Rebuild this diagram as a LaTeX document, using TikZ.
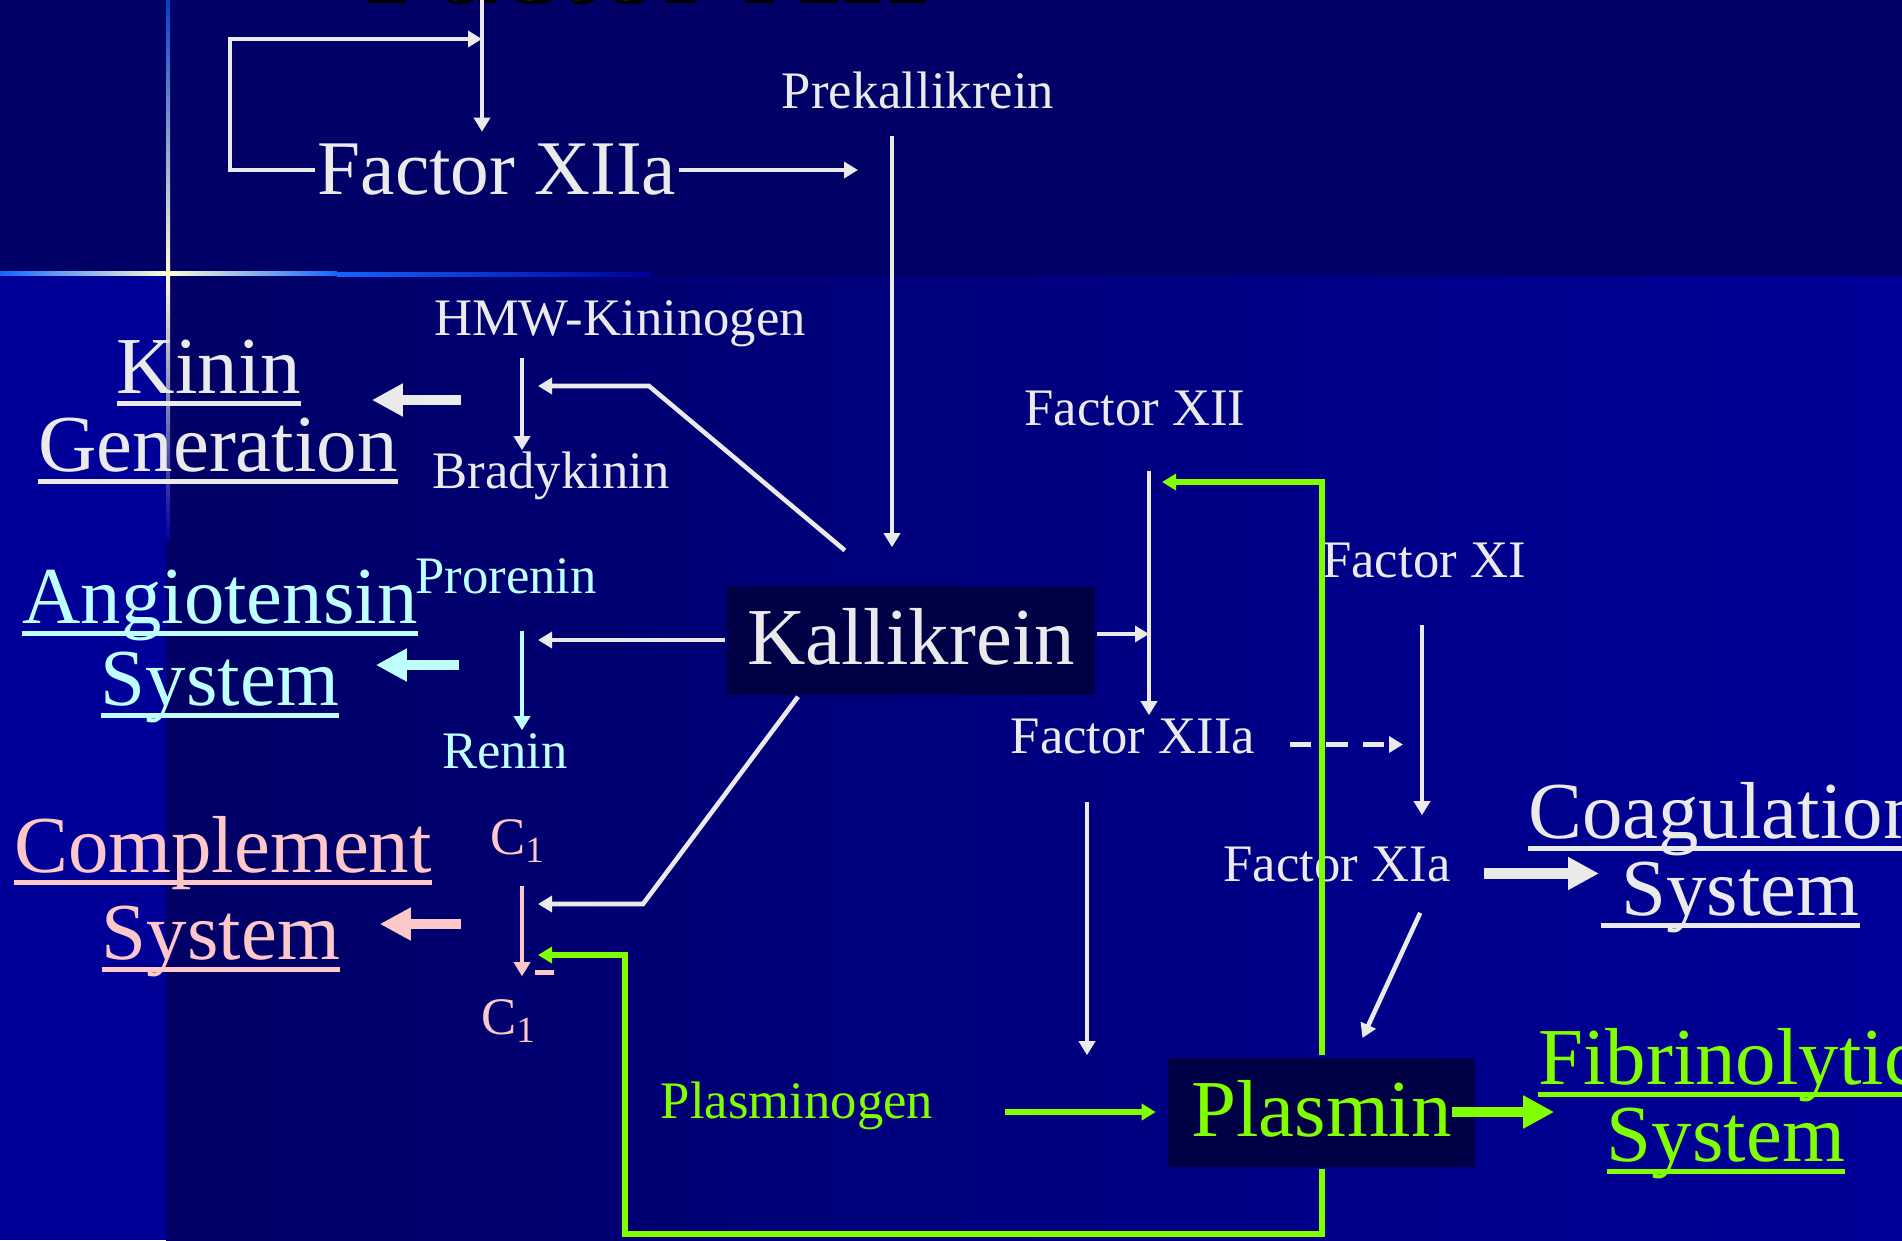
\documentclass[tikz,border=0pt]{standalone}
\usepackage{fontspec}
\setmainfont{Liberation Serif}
\usetikzlibrary{arrows.meta}

\definecolor{slidetop}{RGB}{0,0,102}
\definecolor{slidelow}{RGB}{0,0,153}
\definecolor{boxfill}{RGB}{0,0,70}
\definecolor{textwhite}{RGB}{234,234,234}
\definecolor{kinincyan}{RGB}{190,255,255}
\definecolor{complpink}{RGB}{255,200,200}
\definecolor{fibgreen}{RGB}{128,255,0}
\definecolor{titleteal}{RGB}{0,110,110}
\definecolor{glowblue}{RGB}{20,100,255}
\definecolor{glowpale}{RGB}{255,255,215}

% underlined system names
\newsavebox{\ulbox}
\newcommand{\sysul}[1]{\sbox{\ulbox}{#1}\rlap{\rule[-3.6pt]{\wd\ulbox}{1.3pt}}\usebox{\ulbox}}

\tikzset{
	lbl/.style = {font = \fontsize{15}{18}\selectfont, inner sep = 0pt, text height = 0.36cm, text depth = 0.10cm, yshift = -0.45mm},
	biglbl/.style = {font = \fontsize{23}{27}\selectfont, inner sep = 0pt, text height = 0.60cm, text depth = 0.12cm},
	sysname/.style = {font = \fontsize{23}{27}\selectfont, inner sep = 0pt, anchor = base},
	enzyme/.style = {biglbl, fill = boxfill, minimum height = 1.09cm},
	bigarrow/.style = {line width = 3pt, -{Triangle[length = 0.31cm, width = 0.31cm]}},
	feedback/.style = {fibgreen, line width = 1.7pt}
}

\begin{document}
\begin{tikzpicture}[> = {Triangle[length = 1.4mm, width = 1.6mm]}, line width = 1.3pt, color = textwhite]

	\useasboundingbox (0, 0) rectangle (19.02, 12.40);
	\clip (0, 0) rectangle (19.02, 12.40);

	% Slide background
	
	\fill [slidetop] (0, 0) rectangle (19.02, 12.40);
	\shade [left color = slidetop, right color = slidelow] (1.66, 0) rectangle (19.02, 9.64);
	\fill [slidelow] (0, 0) rectangle (1.66, 9.64);
	
	\shade [left color = glowblue, right color = glowpale] (0, 9.65) rectangle (1.68, 9.69);
	\shade [left color = glowpale, right color = glowblue] (1.68, 9.65) rectangle (3.37, 9.69);
	\shade [left color = glowblue, right color = slidelow] (3.37, 9.64) rectangle (6.50, 9.68);
	\shade [top color = glowblue!60!slidetop, bottom color = glowpale] (1.66, 12.40) rectangle (1.70, 9.67);
	\shade [top color = glowpale, bottom color = slidelow] (1.66, 9.67) rectangle (1.70, 7.00);
	
	% Title, cut by the top edge
	
	\node [font = \fontsize{38.5}{44}\selectfont, black, anchor = base] (title shadow) at (6.47, 12.365) {Factor XII};
	\node [font = \fontsize{38.5}{44}\selectfont, titleteal, anchor = base] (title) at (6.43, 12.405) {Factor XII};
	
	% Reactants and products
	
	\node [biglbl, font = \fontsize{22}{26}\selectfont] (xiia top) at (4.97, 10.70) {Factor XIIa};
	\node [lbl] (prekal) at (9.18, 11.49) {Prekallikrein};
	\node [lbl] (hmw) at (6.20, 9.22) {HMW-Kininogen};
	\node [lbl] (brady) at (5.51, 7.69) {Bradykinin};
	\node [lbl, kinincyan] (prorenin) at (5.06, 6.64) {Prorenin};
	\node [lbl, kinincyan] (renin) at (5.05, 4.89) {Renin};
	\node [lbl, complpink] (c1) at (5.18, 4.03) {C\textsubscript{1}};
	\node [lbl, complpink] (c1 act) at (5.09, 2.23) {C\textsubscript{1}};
	\node [lbl] (xii) at (11.35, 8.32) {Factor XII};
	\node [lbl] (xiia) at (11.33, 5.04) {Factor XIIa};
	\node [lbl] (xi) at (14.24, 6.80) {Factor XI};
	\node [lbl] (xia) at (13.37, 3.76) {Factor XIa};
	\node [lbl, fibgreen] (plg) at (7.97, 1.39) {Plasminogen};
	
	\node [enzyme, minimum width = 3.68cm] (kall) at (9.11, 6.00) {Kallikrein};
	\node [enzyme, minimum width = 3.07cm, text = fibgreen] (plas) at (13.215, 1.28) {Plasmin};
	
	% Systems
	
	\node [sysname] (kinin) at (2.09, 8.47) {\sysul{Kinin}};
	\node [sysname] (kin gen) at (2.18, 7.69) {\sysul{Generation}};
	\node [sysname, kinincyan] (angio) at (2.20, 6.17) {\sysul{Angiotensin}};
	\node [sysname, kinincyan] (angio sys) at (2.20, 5.35) {\sysul{System}};
	\node [sysname, complpink] (compl) at (2.23, 3.68) {\sysul{Complement}};
	\node [sysname, complpink] (compl sys) at (2.21, 2.81) {\sysul{System}};
	\node [sysname, anchor = base west] (coag) at (15.26, 4.02) {\sysul{Coagulation}};
	\node [sysname, anchor = base west] (coag sys) at (15.99, 3.25) {\sysul{\ System}};
	\node [sysname, fibgreen, anchor = base west] (fib) at (15.36, 1.56) {\sysul{Fibrinolytic}};
	\node [sysname, fibgreen] (fib sys) at (17.26, 0.79) {\sysul{System}};
	
	% Columns and bends
	
	\coordinate (top in) at (4.82, 12.40);
	\coordinate (loop corner) at (2.30, 12.01);
	\coordinate (pk col) at (8.92, 0);
	\coordinate (kin col) at (5.22, 0);
	\coordinate (tip col) at (5.38, 0);
	\coordinate (xii col) at (11.49, 0);
	\coordinate (xiia col) at (10.87, 0);
	\coordinate (xi col) at (14.22, 0);
	\coordinate (hmw bend) at (6.49, 8.54);
	\coordinate (c1 bend) at (6.43, 3.36);
	\coordinate (fb top) at (11.62, 7.58);
	\coordinate (fb low) at (6.25, 0.06);
	\coordinate (c1 feed) at (5.38, 2.85);
	\coordinate (kin out) at (4.61, 8.40);
	\coordinate (angio out) at (4.59, 5.75);
	\coordinate (compl out) at (4.61, 3.16);
	
	% Contact activation
	
	\draw [->] (top in) -- (top in |- xiia top.north);
	\draw [->] (xiia top.west) -| (loop corner) -- (loop corner -| top in);
	\draw [->, shorten > = 3.4mm] (xiia top.east) -- (xiia top.east -| pk col);
	\draw [->, shorten < = 1.5mm, shorten > = 3.6mm] (prekal.south -| pk col) -- (kall.north -| pk col);
	
	% Kallikrein acting to the left
	
	\draw [->, shorten < = 1.0mm] (hmw.south -| kin col) -- (brady.north -| kin col);
	\draw [->, shorten < = 5.1mm] ([xshift = -2.7mm]kall.north) -- (hmw bend) -- (hmw bend -| tip col);
	\draw [->] (kall.west) -- (kall.west -| tip col);
	\draw [->] ([xshift = -11.3mm]kall.south) -- (c1 bend) -- (c1 bend -| tip col);
	
	\draw [kinincyan, ->, shorten < = 2.5mm] (prorenin.south -| kin col) -- (renin.north -| kin col);
	\draw [complpink, ->, shorten < = 1.9mm, shorten > = 2.0mm] (c1.south -| kin col) -- (c1 act.north -| kin col);
	\draw [complpink] ([shift = {(0.26, 0.24)}]c1 act.north) -- ++(0.19, 0);
	
	\draw [bigarrow, shorten > = 6.85mm] (kin out) -- (kin out -| kinin.east);
	\draw [bigarrow, kinincyan, shorten > = 3.45mm] (angio out) -- (angio out -| angio sys.east);
	\draw [bigarrow, complpink, shorten > = 3.75mm] (compl out) -- (compl out -| compl sys.east);
	
	% Kallikrein acting to the right
	
	\draw [->] ([yshift = 0.6mm]kall.east) -- ([yshift = 0.6mm]kall.east -| xii col);
	\draw [->, shorten < = 3.3mm] (xii.south -| xii col) -- (xiia.north -| xii col);
	\draw [->, shorten < = 3.6mm] (xiia.south -| xiia col) -- (plas.north -| xiia col);
	\draw [->, dash pattern = on 6pt off 4.5pt, line width = 1.4pt, shorten < = 3.2mm, shorten > = 1.9mm] ([yshift = -0.4mm]xiia.east) -- ([yshift = -0.4mm]xiia.east -| xi col);
	\draw [->, shorten < = 3.5mm, shorten > = 2.8mm] (xi.south -| xi col) -- (xia.north -| xi col);
	\draw [->, shorten < = 2.1mm, shorten > = 1.9mm] ([xshift = 9.2mm]xia.south) -- ([xshift = 3.3mm]plas.north);
	\draw [bigarrow, shorten < = 3.1mm] ([yshift = -0.5mm]xia.east) -- ([yshift = -0.5mm]xia.east -| coag sys.west);
	
	% Fibrinolysis and feedback
	
	\draw [feedback, ->, shorten < = 7mm, shorten > = 1mm] (plg.east |- plas.west) -- (plas.west);
	\draw [bigarrow, fibgreen, shorten < = -2.5mm, shorten > = 5.05mm] (plas.east) -- (plas.east -| fib sys.west);
	\draw [feedback, ->] (plas.north) |- (fb top);
	\draw [feedback, ->] (plas.south) |- (fb low) |- (c1 feed);

\end{tikzpicture}
\end{document}
